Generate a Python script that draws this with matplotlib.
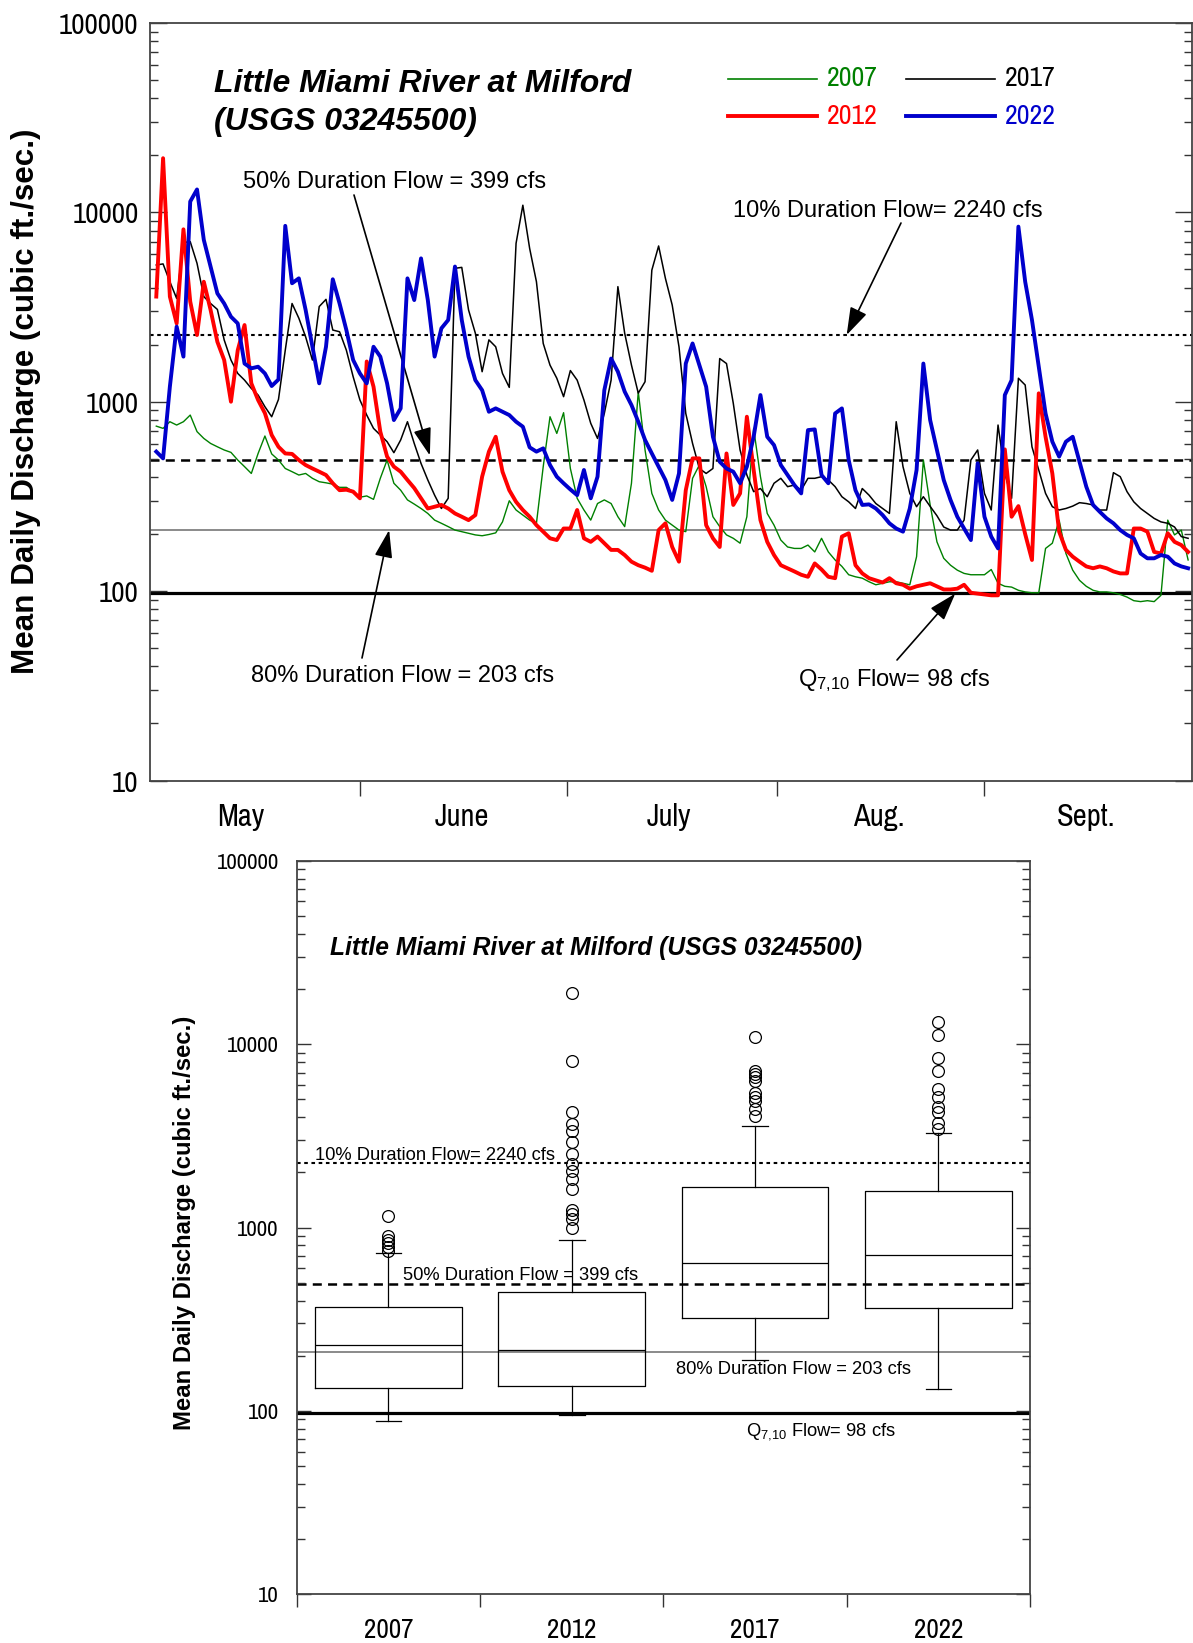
import numpy as np
import matplotlib
matplotlib.use("Agg")
import matplotlib.pyplot as plt
from matplotlib import font_manager
from matplotlib.ticker import LogLocator, FixedLocator, NullFormatter, FuncFormatter
from matplotlib.lines import Line2D

# narrow font for tick labels if one is installed
NARROW = None
for f in font_manager.fontManager.ttflist:
    if 'narrow' in (f.name + f.fname).lower() and f.style == 'normal' and f.weight in (400, 'normal', 'regular'):
        NARROW = f.name
        break
NS = 1.0 if NARROW else 0.9
if NARROW is None:
    NARROW = 'Liberation Sans'
plt.rcParams['font.family'] = ['Liberation Sans', 'DejaVu Sans']
plt.rcParams['lines.scale_dashes'] = False

# ---------------- data ----------------
days = np.arange(1, 154)   # 1 May .. 30 Sept

q2007 = [743, 723, 784, 753, 784, 850, 695, 640, 602, 578,
         556, 540, 492, 454, 418, 533, 659, 530, 492, 444,
         427, 410, 418, 394, 378, 373, 367, 353, 353, 335,
         313, 318, 305, 394, 492, 371, 341, 303, 288, 273,
         257, 237, 228, 219, 210, 206, 202, 198, 196, 199,
         203, 232, 300, 268, 252, 237, 228, 454, 833, 680,
         875, 444, 309, 268, 237, 290, 303, 290, 247, 219,
         371, 1130, 556, 328, 268, 237, 223, 210, 206, 394,
         463, 356, 247, 219, 198, 190, 179, 247, 723, 402,
         257, 223, 186, 171, 168, 168, 175, 161, 190, 161,
         146, 135, 122, 119, 117, 112, 108, 110, 112, 112,
         110, 108, 152, 492, 285, 182, 149, 137, 129, 124,
         122, 122, 122, 130, 110, 106, 105, 101, 99, 98,
         98, 168, 179, 237, 158, 129, 114, 106, 101, 99,
         99, 98, 96, 93, 89, 88, 89, 88, 95, 237,
         198, 210, 146]

q2012 = [3590, 19300, 3590, 2590, 8130, 3380, 2250, 4300, 3050, 2070,
         1660, 1000, 1870, 2540, 1250, 1020, 870, 667, 578, 533,
         530, 492, 463, 444, 427, 410, 371, 341, 343, 335,
         309, 1630, 1200, 695, 513, 454, 427, 386, 350, 309,
         273, 279, 285, 273, 257, 247, 237, 252, 402, 545,
         653, 427, 341, 296, 268, 247, 223, 206, 190, 186,
         214, 214, 268, 190, 182, 194, 179, 165, 165, 155,
         143, 137, 133, 128, 210, 228, 171, 143, 341, 502,
         502, 223, 190, 171, 533, 285, 328, 833, 436, 237,
         182, 155, 137, 132, 127, 122, 119, 140, 130, 119,
         117, 194, 202, 137, 124, 117, 114, 111, 117, 110,
         108, 103, 106, 108, 110, 106, 102, 102, 103, 108,
         98, 97, 96, 95, 95, 560, 247, 281, 200, 146,
         1107, 653, 418, 206, 165, 152, 143, 135, 132, 135,
         132, 127, 124, 124, 214, 214, 206, 161, 158, 202,
         182, 175, 161]

q2017 = [5270, 5340, 4300, 3510, 6920, 7000, 5380, 3590, 3300, 3070,
         2120, 1660, 1410, 1300, 1175, 1084, 941, 833, 1028, 1870,
         3300, 2760, 2200, 1660, 3180, 3470, 2390, 2340, 1870, 1355,
         1020, 850, 723, 667, 615, 538, 628, 784, 602, 472,
         386, 321, 273, 309, 5060, 5120, 3050, 2300, 1440, 2120,
         1950, 1410, 1190, 6860, 10900, 6450, 4300, 2030, 1560, 1330,
         1063, 1460, 1300, 1020, 769, 640, 867, 1300, 4050, 2300,
         1560, 1110, 1275, 4950, 6640, 4480, 3240, 1950, 867, 602,
         444, 418, 444, 1690, 1590, 980, 556, 410, 335, 348,
         315, 371, 394, 356, 363, 341, 394, 394, 402, 386,
         356, 315, 296, 273, 348, 321, 290, 273, 257, 784,
         454, 328, 279, 315, 280, 250, 218, 210, 210, 237,
         492, 556, 328, 268, 753, 418, 309, 1330, 1225, 578,
         436, 328, 279, 268, 273, 281, 293, 290, 285, 268,
         268, 422, 402, 335, 296, 273, 257, 242, 232, 228,
         218, 194, 190]

q2022 = [545, 502, 1200, 2490, 1730, 11400, 13200, 7150, 5170, 3730,
         3300, 2810, 2590, 1590, 1500, 1530, 1410, 1210, 1310, 8480,
         4220, 4480, 3050, 1950, 1250, 1950, 4430, 3300, 2390, 1660,
         1410, 1250, 1950, 1730, 1250, 800, 922, 4480, 3440, 5710,
         3440, 1730, 2440, 2700, 5170, 2700, 1730, 1300, 1150, 885,
         922, 885, 850, 784, 738, 574, 545, 567, 463, 402,
         371, 344, 321, 436, 309, 402, 1150, 1690, 1440, 1130,
         960, 784, 628, 533, 454, 386, 303, 418, 1590, 2030,
         1560, 1200, 653, 482, 444, 427, 371, 454, 653, 1084,
         653, 590, 463, 410, 363, 328, 708, 714, 410, 371,
         867, 922, 492, 341, 285, 287, 273, 252, 228, 214,
         206, 273, 436, 1590, 800, 556, 386, 303, 247, 214,
         186, 473, 247, 194, 168, 1084, 1300, 8400, 4300, 2700,
         1530, 867, 615, 513, 615, 653, 482, 356, 285, 262,
         242, 228, 210, 198, 190, 158, 149, 149, 155, 152,
         140, 135, 132]

years = ['2007', '2012', '2017', '2022']
months = ['May', 'June', 'July', 'Aug.', 'Sept.']
month_starts = [31, 61.5, 92.5, 123]
month_mids = [13.5, 46, 76.5, 107.5, 138]

# duration flows (line levels as drawn, label text as printed)
flow10, flow50, flow80, q710 = 2240, 490, 210, 98

# box plot statistics
box_lo = [88, 95, 189, 131]
box_q1 = [133, 137, 322, 366]
box_med = [230, 216, 640, 713]
box_q3 = [371, 445, 1670, 1590]
box_hi = [725, 857, 3560, 3300]
fliers = [[1157, 904, 857, 822, 782, 750],
          [19000, 8100, 4250, 3660, 3370, 2920, 2520, 2220, 2040, 1840,
           1620, 1250, 1190, 1110, 1000],
          [10900, 7160, 6870, 6590, 6320, 5450, 5130, 4920, 4430, 4070],
          [13200, 11200, 8400, 7100, 5690, 5130, 4520, 4250, 3740, 3440]]

# ---------------- figure ----------------
W, H = 1193, 1643
fig = plt.figure(figsize=(W / 100, H / 100), dpi=100)


def fx(x):
    return x / W


def fy(y):
    return 1 - y / H


def ref_lines(ax):
    ax.axhline(flow10, color='k', lw=1.5, ls=(0, (2.6, 2.6)), zorder=1)
    ax.axhline(flow50, color='k', lw=1.8, ls=(0, (6.5, 4.5)), zorder=1)
    ax.axhline(flow80, color='#777777', lw=1.2, zorder=1)
    ax.axhline(q710, color='k', lw=2.3, zorder=1)


def log_axis(ax, size, pad, major_len, minor_len):
    ax.set_yscale('log')
    ax.set_ylim(10, 100000)
    ax.yaxis.set_major_locator(FixedLocator([10, 100, 1000, 10000, 100000]))
    ax.yaxis.set_major_formatter(FuncFormatter(lambda v, p: '%d' % v))
    ax.yaxis.set_minor_locator(LogLocator(base=10, subs=np.arange(2, 10)))
    ax.yaxis.set_minor_formatter(NullFormatter())
    ax.tick_params(axis='y', which='both', direction='in', left=True, right=True,
                   labelsize=size, pad=pad, width=1.0, color='#333333')
    ax.tick_params(axis='y', which='major', length=major_len)
    ax.tick_params(axis='y', which='minor', length=minor_len)
    for lab in ax.get_yticklabels():
        lab.set_family(NARROW)
    for sp in ax.spines.values():
        sp.set_color('#444444')
        sp.set_linewidth(1.3)


# ---- top panel: daily flows ----
ax1 = fig.add_axes([fx(149.5), fy(780.5), fx(1191.5 - 149.5), (780.5 - 22.9) / H])
ref_lines(ax1)
ax1.plot(days, q2007, color='#008000', lw=1.0, zorder=3)
ax1.plot(days, q2017, color='black', lw=1.1, zorder=3)
ax1.plot(days, q2012, color='#ff0000', lw=2.8, zorder=4)
ax1.plot(days, q2022, color='#0000cc', lw=2.8, zorder=5)
ax1.set_xlim(0, 153.5)
log_axis(ax1, 21 * NS, 8, 12, 6)
ax1.set_xticks(month_starts)
ax1.set_xticklabels([])
ax1.set_xticks(month_mids, months, minor=True)
ax1.tick_params(axis='x', which='major', direction='out', length=11, width=1.0,
                color='#333333')
ax1.tick_params(axis='x', which='minor', length=0, pad=16.5, labelsize=22 * NS)
for lab in ax1.get_xticklabels(minor=True):
    lab.set_family(NARROW)

fig.text(fx(26), fy(401), 'Mean Daily Discharge (cubic ft./sec.)', rotation=90,
         ha='center', va='center', fontsize=22.6, fontweight='bold')
fig.text(fx(214), fy(84), 'Little Miami River at Milford', fontsize=23,
         fontweight='bold', style='italic', ha='left', va='center')
fig.text(fx(214), fy(122), '(USGS 03245500)', fontsize=23,
         fontweight='bold', style='italic', ha='left', va='center')

# legend
leg = [('2007', '#008000', 1.2, 728, 79), ('2017', 'black', 1.2, 906, 79),
       ('2012', '#ff0000', 2.8, 728, 116), ('2022', '#0000cc', 2.8, 906, 116)]
for name, col, lw, x0, y0 in leg:
    fig.add_artist(Line2D([fx(x0), fx(x0 + 89)], [fy(y0), fy(y0)], color=col, lw=lw))
    fig.text(fx(x0 + 99), fy(y0), name, color=col, fontsize=20 * NS, family=NARROW,
             ha='left', va='center')

arrow = dict(arrowstyle='-|>,head_length=1.7,head_width=0.55', mutation_scale=10,
             color='black', lw=1.2, shrinkA=0, shrinkB=0)
fs_note = 17
q_label = r'Q$\mathregular{_{7{,}10}}$ Flow= 98 cfs'
fig.text(fx(243), fy(182), '50% Duration Flow = 399 cfs', fontsize=fs_note,
         ha='left', va='center')
ax1.annotate('', xy=(41.3, 520), xytext=(fx(354), fy(195)),
             textcoords='figure fraction', arrowprops=arrow)
fig.text(fx(733), fy(211), '10% Duration Flow= 2240 cfs', fontsize=fs_note,
         ha='left', va='center')
ax1.annotate('', xy=(102.7, 2250), xytext=(fx(901), fy(223)),
             textcoords='figure fraction', arrowprops=arrow)
fig.text(fx(251), fy(676), '80% Duration Flow = 203 cfs', fontsize=fs_note,
         ha='left', va='center')
ax1.annotate('', xy=(35.3, 210), xytext=(fx(362), fy(658)),
             textcoords='figure fraction', arrowprops=arrow)
fig.text(fx(798), fy(681), q_label, fontsize=fs_note, ha='left', va='center')
ax1.annotate('', xy=(118.7, 97), xytext=(fx(897), fy(660)),
             textcoords='figure fraction', arrowprops=arrow)

# ---- bottom panel: box plots ----
ax2 = fig.add_axes([fx(296.7), fy(1594.4), fx(1030 - 296.7), (1594.4 - 860.8) / H])
ref_lines(ax2)
stats = []
for i, y in enumerate(years):
    stats.append(dict(label=y, whislo=box_lo[i], q1=box_q1[i], med=box_med[i],
                      q3=box_q3[i], whishi=box_hi[i], fliers=fliers[i]))
line = dict(color='black', lw=0.9)
ax2.bxp(stats, positions=[1, 2, 3, 4], widths=0.8, capwidths=0.14,
        boxprops=line, whiskerprops=line, capprops=line,
        medianprops=dict(color='black', lw=0.9),
        flierprops=dict(marker='o', markersize=8.5, markerfacecolor='none',
                        markeredgecolor='black', markeredgewidth=0.9),
        manage_ticks=False, zorder=3)
ax2.set_xlim(0.5, 4.5)
log_axis(ax2, 16.5 * NS, 13, 10, 6)
ax2.set_xticks([0.5, 1.5, 2.5, 3.5, 4.5])
ax2.set_xticklabels([])
ax2.set_xticks([1, 2, 3, 4], years, minor=True)
ax2.tick_params(axis='x', which='major', direction='out', length=9, width=1.0,
                color='#333333')
ax2.tick_params(axis='x', which='minor', length=0, pad=17, labelsize=19.5 * NS)
for lab in ax2.get_xticklabels(minor=True):
    lab.set_family(NARROW)

fig.text(fx(185), fy(1223), 'Mean Daily Discharge (cubic ft./sec.)', rotation=90,
         ha='center', va='center', fontsize=17.2, fontweight='bold')
fig.text(fx(330), fy(948), 'Little Miami River at Milford (USGS 03245500)',
         fontsize=17.7, fontweight='bold', style='italic', ha='left', va='center')
fs_b = 13.2
fig.text(fx(315), fy(1156), '10% Duration Flow= 2240 cfs', fontsize=fs_b,
         ha='left', va='center')
fig.text(fx(403), fy(1275), '50% Duration Flow = 399 cfs', fontsize=fs_b,
         ha='left', va='center')
fig.text(fx(676), fy(1370), '80% Duration Flow = 203 cfs', fontsize=fs_b,
         ha='left', va='center')
fig.text(fx(746), fy(1432), q_label, fontsize=fs_b, ha='left', va='center')

fig.savefig('out.png', dpi=100)
